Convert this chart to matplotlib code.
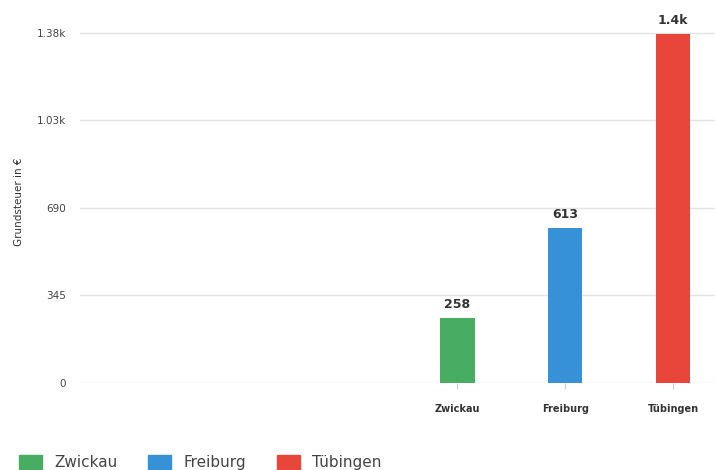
import matplotlib.pyplot as plt
from matplotlib.patches import Patch

cities = ['Zwickau', 'Freiburg', 'Tübingen']
values = [258, 613, 1376]
value_labels = ['258', '613', '1.4k']
colors = ['#48ad62', '#3691d6', '#e8463a']
y_ticks = [0, 345, 690, 1035, 1380]
y_tick_labels = ['0', '345', '690', '1.03k', '1.38k']

fig = plt.figure(figsize=(7.15, 4.7), dpi=100)
ax = fig.add_axes([80 / 715, 87 / 470, 635 / 715, 363 / 470])

x = list(range(len(cities)))
ax.bar(x, values, width=0.32, color=colors, zorder=3)

for xi, v, lab in zip(x, values, value_labels):
    ax.annotate(lab, (xi, v), xytext=(0, 5), textcoords='offset points',
                ha='center', va='bottom', fontsize=9, fontweight='bold', color='#333333')

ax.set_xlim(-3.5, 2.39)
ax.set_ylim(0, 1431)
ax.set_xticks(x)
ax.set_xticklabels(cities, fontsize=7, fontweight='semibold', color='#333333')
ax.set_yticks(y_ticks)
ax.set_yticklabels(y_tick_labels, fontsize=7.5, color='#444444')
ax.tick_params(axis='x', length=4, color='#cccccc', pad=11)
ax.tick_params(axis='y', length=0, pad=10)
ax.grid(axis='y', color='#e3e3e3', linewidth=1, zorder=0)
for s in ax.spines.values():
    s.set_visible(False)

ax.set_ylabel('Grundsteuer in €', fontsize=7.5, color='#333333')
ax.yaxis.set_label_coords(-0.088, 0.5)

handles = [Patch(color=c, label=n) for c, n in zip(colors, cities)]
fig.legend(handles=handles, loc='lower left', bbox_to_anchor=(0.008, -0.03), ncol=3,
           frameon=False, fontsize=11, handlelength=1.5, handleheight=1.0,
           columnspacing=2.0, labelcolor='#444444')

fig.savefig('out.png', dpi=100, facecolor='white')
